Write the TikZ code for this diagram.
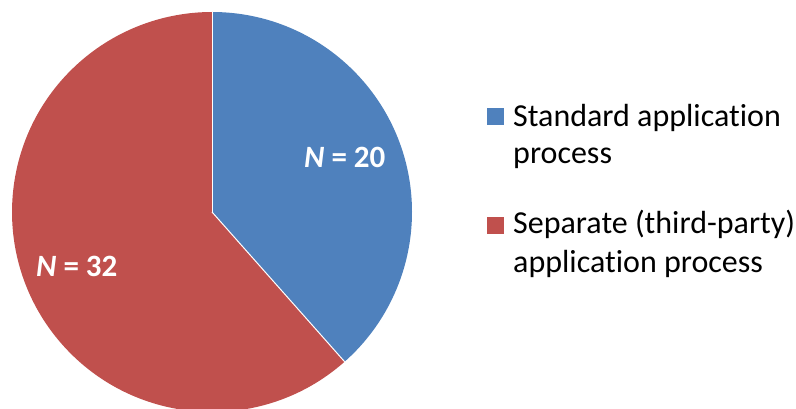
\documentclass[tikz,border=0pt]{standalone}
\usepackage{fontspec}
\setmainfont[Ligatures=NoCommon]{Carlito}
\definecolor{sblue}{HTML}{4F81BD}
\definecolor{sred}{HTML}{C0504D}
\begin{document}
\begin{tikzpicture}[x=1pt,y=1pt,
  legtext/.style={anchor=base west,inner sep=0pt,font=\fontsize{32}{35}\selectfont},
  slicelabel/.style={anchor=base west,inner sep=0pt,text=white,font=\fontsize{31}{35}\selectfont\bfseries},
  legbox/.style={draw=none,minimum size=17pt,inner sep=0pt,anchor=north west}]
\useasboundingbox (0,0) rectangle (796,408);
\coordinate (c) at (212,196);
\fill[sblue] (c) -- ++(90:200) arc[start angle=90,end angle=-48.46,radius=200] -- cycle;
\fill[sred] (c) -- ++(-48.46:200) arc[start angle=-48.46,end angle=-270,radius=200] -- cycle;
\draw[white,line width=1pt] (c) -- ++(90:200);
\draw[white,line width=1pt] (c) -- ++(-48.46:200);
\node[slicelabel] (n20) at (304,241) {\textit{N} = 20};
\node[slicelabel] (n32) at (36,132) {\textit{N} = 32};
\node[legbox,fill=sblue] (k1) at (487,300) {};
\node[legbox,fill=sred] (k2) at (487,191) {};
\node[legtext] (t1a) at (513,281) {Standard application};
\node[legtext] (t1b) at (513,245) {process};
\node[legtext] (t2a) at (513,175) {Separate (third-party)};
\node[legtext] (t2b) at (513,136) {application process};
\end{tikzpicture}
\end{document}
